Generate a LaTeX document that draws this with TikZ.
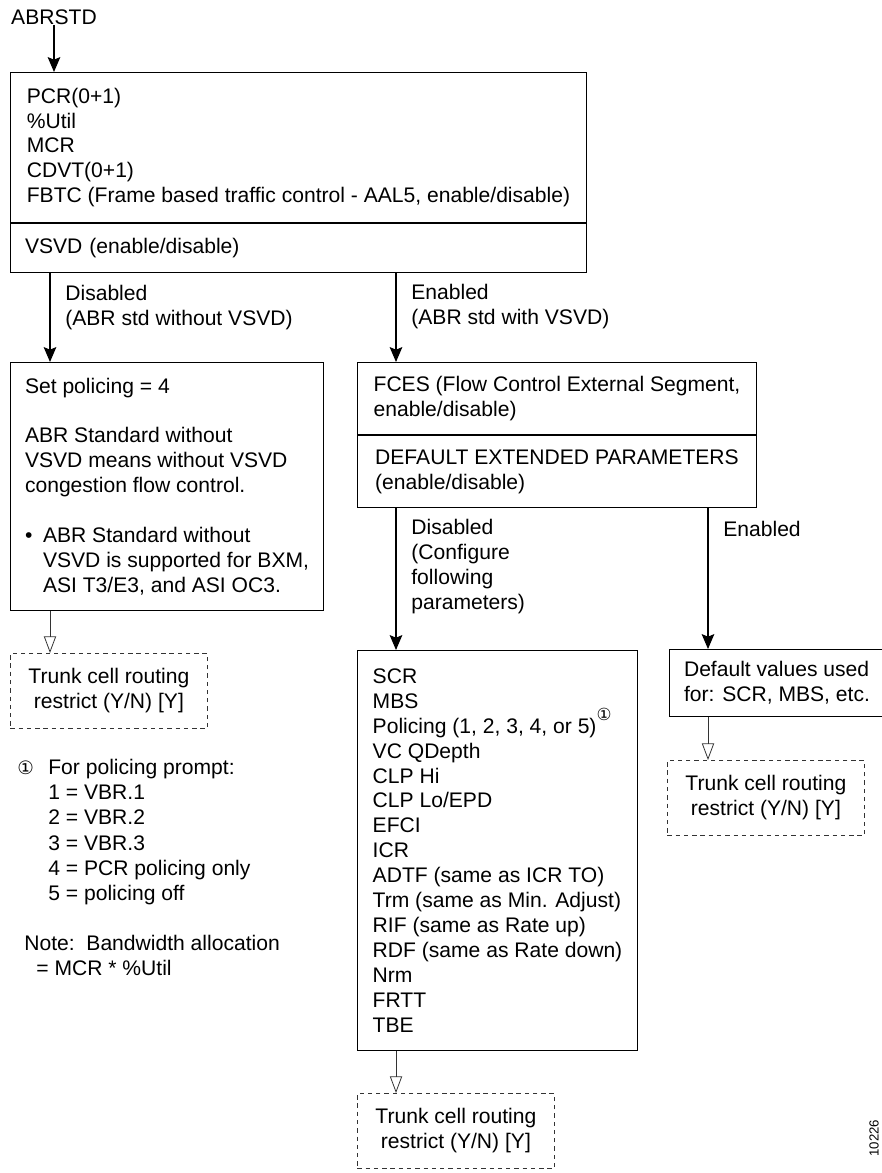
\documentclass[tikz,border=0pt]{standalone}
\usepackage{fontspec}
\setmainfont{Liberation Sans}
\newfontfamily\circfont{DejaVu Sans}
\usetikzlibrary{arrows.meta}
\newcommand{\circone}{{\fontsize{10.5}{10}\circfont ①}}
\newcommand{\supone}{\raisebox{7pt}{\fontsize{9.5}{9}\circfont ①}}

\begin{document}
\begin{tikzpicture}[x=0.02cm,y=-0.02cm,
  every node/.style={font=\fontsize{12}{14.2}\selectfont},
  box/.style={draw, line width=0.6pt, inner xsep=0.29cm, inner ysep=0pt, align=left, anchor=north west},
  trunkbox/.style={draw=black!80, dash pattern=on 2.5pt off 2.2pt, line width=0.5pt, minimum width=3.94cm, minimum height=1.5cm, inner sep=0pt, align=center, anchor=north west},
  flow/.style={-{Stealth[length=8.5pt,width=7.2pt,inset=1.5pt]}, line width=0.6pt},
  trunkflow/.style={-{Triangle[open,length=9.5pt,width=7pt]}, line width=0.45pt, draw=black!80},
  lbl/.style={anchor=west, align=left, inner sep=0pt}]
\useasboundingbox (0,0) rectangle (882,1173);

\coordinate (colL) at (50,0);
\coordinate (colM) at (396,0);
\coordinate (colR) at (708,0);

\node[inner sep=0pt] (abrstd) at (54,17) {ABRSTD};

% ABR std parameters
\node[box, minimum width=11.52cm, minimum height=3cm] (topA) at (10,72)
  {PCR(0+1)\\ \%Util\\ MCR\\ CDVT(0+1)\\ FBTC (Frame based traffic control - AAL5, enable/disable)};
\node[box, text width=10.94cm, minimum height=0.98cm] (topB) at (topA.south west)
  {VSVD (enable/disable)};

\node[box, minimum width=6.24cm, minimum height=4.96cm] (setpol) at (10,362)
  {Set policing = 4\\[14.2pt]
   ABR Standard without\\ VSVD means without VSVD\\ congestion flow control.\\[14.2pt]
   \makebox[0.36cm][l]{\textbullet}ABR Standard without\\
   \hspace*{0.36cm}VSVD is supported for BXM,\\
   \hspace*{0.36cm}ASI T3/E3, and ASI OC3.};

\node[box, minimum width=7.98cm, minimum height=1.44cm] (fcesA) at (357,362)
  {FCES (Flow Control External Segment,\\ enable/disable)};
\node[box, minimum width=7.98cm, minimum height=1.44cm] (fcesB) at (fcesA.south west)
  {DEFAULT EXTENDED PARAMETERS\\ (enable/disable)};

\node[box, minimum width=5.6cm, minimum height=8cm] (params) at (357,650)
  {SCR\\ MBS\\ Policing (1, 2, 3, 4, or 5)\supone\\ VC QDepth\\ CLP Hi\\ CLP Lo/EPD\\ EFCI\\ ICR\\
   ADTF (same as ICR TO)\\ Trm (same as Min. Adjust)\\ RIF (same as Rate up)\\
   RDF (same as Rate down)\\ Nrm\\ FRTT\\ TBE};

\node[box, minimum width=4.22cm, minimum height=1.34cm] (defval) at (669,649)
  {Default values used\\ for: SCR, MBS, etc.};

\node[trunkbox] (trunkL) at (10,653) {Trunk cell routing\\ restrict (Y/N) [Y]};
\node[trunkbox] (trunkM) at (357,1093) {Trunk cell routing\\ restrict (Y/N) [Y]};
\node[trunkbox] (trunkR) at (667,760) {Trunk cell routing\\ restrict (Y/N) [Y]};

% branch labels
\node[lbl] (offA) at (65,307.5) {Disabled\\ (ABR std without VSVD)};
\node[lbl] (onA) at (411,307) {Enabled\\ (ABR std with VSVD)};
\node[lbl] (offB) at (411,566.5) {Disabled\\ (Configure\\ following\\ parameters)};
\node[lbl] (onB) at (723,529) {Enabled};

% notes
\node[lbl, font=\fontsize{12}{14.4}\selectfont] (fnote) at (17,832)
  {\makebox[0.62cm][l]{\circone}For policing prompt:\\
   \hspace*{0.62cm}1 = VBR.1\\ \hspace*{0.62cm}2 = VBR.2\\ \hspace*{0.62cm}3 = VBR.3\\
   \hspace*{0.62cm}4 = PCR policing only\\ \hspace*{0.62cm}5 = policing off};
\node[lbl] (bwnote) at (24,955.5) {Note:\ \ Bandwidth allocation\\ \hspace*{0.24cm}= MCR * \%Util};

\node[rotate=90, inner sep=0pt, font=\fontsize{7.5}{9}\selectfont] (figid) at (874,1138) {10226};

\draw[flow] (abrstd) -- (abrstd |- topA.north);
\draw[flow] (topB.south -| colL) -- (setpol.north -| colL);
\draw[flow] (topB.south -| colM) -- (fcesA.north -| colM);
\draw[flow] (fcesB.south -| colM) -- (params.north -| colM);
\draw[flow] (fcesB.south -| colR) -- (defval.north -| colR);
\draw[trunkflow] (setpol.south -| colL) -- (trunkL.north -| colL);
\draw[trunkflow] (params.south -| colM) -- (trunkM.north -| colM);
\draw[trunkflow] (defval.south -| colR) -- (trunkR.north -| colR);
\end{tikzpicture}
\end{document}
